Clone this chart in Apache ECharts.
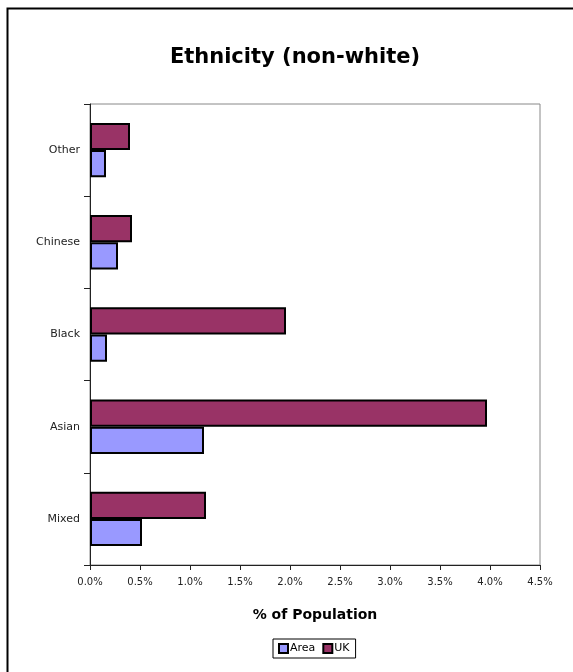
<!DOCTYPE html>
<html>
<head>
<meta charset="utf-8">
<script src="https://cdn.jsdelivr.net/npm/echarts@6/dist/echarts.min.js"></script>
<style>
html,body{margin:0;padding:0;background:#fff;}
#chart{width:573px;height:672px;}
</style>
</head>
<body>
<div id="chart"></div>
<script>
var categories = ['Mixed', 'Asian', 'Black', 'Chinese', 'Other'];
var areaValues = [0.52, 1.14, 0.17, 0.28, 0.16];
var ukValues = [1.16, 3.97, 1.96, 0.42, 0.40];
var seriesNames = ['Area', 'UK'];
var xTicks = {min: 0, max: 4.5, interval: 0.5};

var FONT = "'DejaVu Sans', sans-serif";
var chart = echarts.init(document.getElementById('chart'), null, {renderer: 'canvas'});
chart.setOption({
  animation: false,
  backgroundColor: '#fff',
  title: {
    text: 'Ethnicity (non-white)',
    left: 290, textAlign: 'center', top: 42,
    textStyle: {fontFamily: FONT, fontSize: 21, fontWeight: 'bold', color: '#000'}
  },
  graphic: [{
    type: 'rect', shape: {x: 7.5, y: 8.5, width: 600, height: 700},
    style: {fill: 'none', stroke: '#000', lineWidth: 2}, silent: true
  }],
  legend: {
    data: seriesNames,
    left: 273, top: 639,
    orient: 'horizontal',
    icon: 'rect', itemWidth: 9, itemHeight: 9, itemGap: 7,
    borderColor: '#000', borderWidth: 1, padding: [4, 6, 4, 5],
    textStyle: {fontFamily: FONT, fontSize: 11, color: '#000', padding: [0, 0, 0, -3]}
  },
  grid: {
    left: 90, right: 33, top: 104, bottom: 107,
    show: true, borderColor: '#888', borderWidth: 1, backgroundColor: '#fff'
  },
  xAxis: {
    type: 'value', min: xTicks.min, max: xTicks.max, interval: xTicks.interval,
    name: '% of Population', nameLocation: 'middle', nameGap: 43,
    nameTextStyle: {fontFamily: FONT, fontSize: 14, fontWeight: 'bold', color: '#000'},
    axisLine: {show: true, lineStyle: {color: '#222', width: 1}},
    axisTick: {show: true, length: 5, lineStyle: {color: '#222'}},
    splitLine: {show: false},
    axisLabel: {
      fontFamily: FONT, fontSize: 10, color: '#222', margin: 12,
      formatter: function (v) { return v.toFixed(1) + '%'; }
    }
  },
  yAxis: {
    type: 'category', data: categories,
    axisLine: {show: true, lineStyle: {color: '#222', width: 1}},
    axisTick: {show: true, length: 6, inside: false, lineStyle: {color: '#222'}},
    axisLabel: {fontFamily: FONT, fontSize: 11, color: '#222', margin: 10}
  },
  series: [{
    name: seriesNames[1], type: 'bar', data: ukValues,
    barCategoryGap: '41%', barGap: '0%',
    itemStyle: {color: '#993366', borderColor: '#000', borderWidth: 2}
  }, {
    name: seriesNames[0], type: 'bar', data: areaValues,
    barCategoryGap: '41%', barGap: '0%',
    itemStyle: {color: '#9999FF', borderColor: '#000', borderWidth: 2}
  }]
});
</script>
</body>
</html>
